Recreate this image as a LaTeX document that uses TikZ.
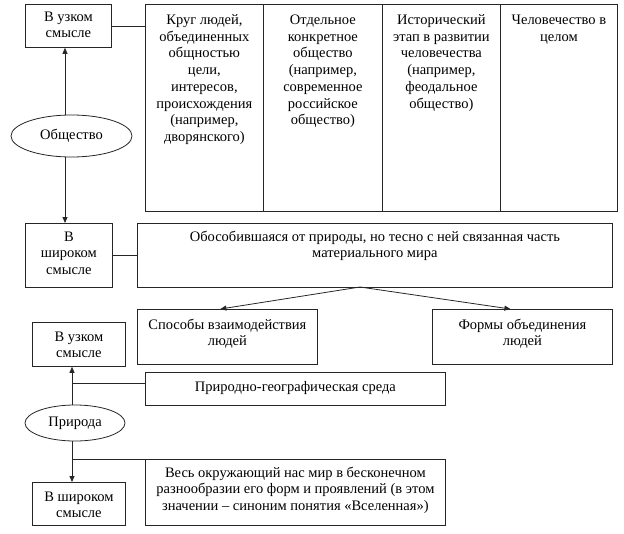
\documentclass[tikz,border=0pt]{standalone}
\usepackage{fontspec}
\setmainfont{Liberation Serif}
\usetikzlibrary{arrows.meta,shapes.geometric}
\newcommand\tb[4]{\parbox[c][#2][t]{#1}{\centering\vspace*{#3}\strut#4\par}}
\tikzset{
  box/.style={draw=black!85, line width=0.8pt, inner sep=0pt, anchor=north west},
  ell/.style={draw=black!85, line width=0.8pt, ellipse, inner sep=0pt},
  conn/.style={draw=black!85, line width=0.8pt},
  arr/.style={conn, -{Triangle[length=6pt,width=5pt]}},
}
\begin{document}
\begin{tikzpicture}[x=1pt,y=-1pt,font=\fontsize{14.5}{16.7}\selectfont]
\useasboundingbox (0,0) rectangle (624,533);
% top: society
\node[box] (n1) at (25,4) {\tb{86pt}{43pt}{5pt}{В узком\\смысле}};
\node[box] (c1) at (145,4) {\tb{118pt}{207pt}{8.5pt}{Круг людей,\\объединенных\\общностью\\цели,\\интересов,\\происхождения\\(например,\\дворянского)}};
\node[box] (c2) at (263,4) {\tb{119pt}{207pt}{8.5pt}{Отдельное\\конкретное\\общество\\(например,\\современное\\российское\\общество)}};
\node[box] (c3) at (382,4) {\tb{118pt}{207pt}{8.5pt}{Исторический\\этап в развитии\\человечества\\(например,\\феодальное\\общество)}};
\node[box] (c4) at (500,4) {\tb{117pt}{207pt}{8.5pt}{Человечество в\\целом}};
\node[ell, minimum width=121pt, minimum height=42pt] (obsh) at (71.5,136) {Общество};
\node[box] (n2) at (25,223) {\tb{87pt}{64pt}{6pt}{В\\широком\\смысле}};
\node[box] (big) at (137,223) {\tb{475pt}{64pt}{6pt}{Обособившаяся от природы, но тесно с ней связанная часть\\материального мира}};
\node[box] (sp) at (137,309) {\tb{180pt}{55pt}{8pt}{Способы взаимодействия\\людей}};
\node[box] (fo) at (432,309) {\tb{180pt}{55pt}{8pt}{Формы объединения\\людей}};
% bottom: nature
\node[box] (n3) at (32,322) {\tb{93pt}{44pt}{7pt}{В узком\\смысле}};
\node[box] (geo) at (145,372) {\tb{300pt}{33pt}{7pt}{Природно-географическая среда}};
\node[ell, minimum width=100pt, minimum height=36pt] (prir) at (75,423) {Природа};
\node[box] (ves) at (145,459) {\tb{300pt}{66pt}{6pt}{Весь окружающий нас мир в бесконечном\\разнообразии его форм и проявлений (в этом\\значении -- синоним понятия «Вселенная»)}};
\node[box] (n4) at (32,482) {\tb{93pt}{43pt}{7pt}{В широком\\смысле}};
% connectors
\coordinate (ax) at (65,0);
\coordinate (bx) at (72,0);
\coordinate (split) at (360,287);
\coordinate (geoy) at (0,383);
\draw[conn] (n1.east) -- (c1.west |- n1.east);
\draw[arr] (obsh.north -| ax) -- (n1.south -| ax);
\draw[arr] (obsh.south -| ax) -- (n2.north -| ax);
\draw[conn] (n2.east) -- (big.west |- n2.east);
\draw[arr] (split) -- ([xshift=-7pt]sp.north);
\draw[arr] (split) -- ([xshift=-12pt]fo.north);
\draw[arr] (prir.north -| bx) -- (n3.south -| bx);
\draw[conn] (geoy -| bx) -- (geoy -| geo.west);
\draw[arr] (prir.south -| bx) -- (n4.north -| bx);
\draw[conn] (ves.north west -| bx) -- (ves.north west);
\end{tikzpicture}
\end{document}
